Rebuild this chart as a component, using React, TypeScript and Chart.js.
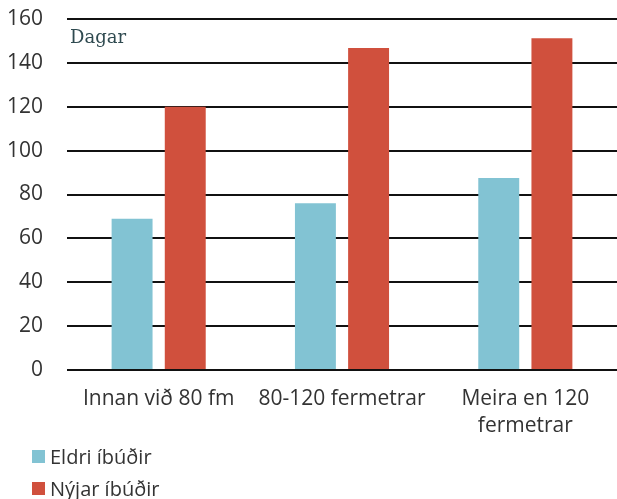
import React, { useEffect, useRef } from "react";
import { Chart, registerables } from "chart.js";

Chart.register(...registerables);

const categories: (string | string[])[] = ["Innan við 80 fm", "80-120 fermetrar", ["Meira en 120", "fermetrar"]];
const seriesNames = ["Eldri íbúðir", "Nýjar íbúðir"];
const eldri = [69, 76, 87.5];
const nyjar = [120, 146.8, 151.2];
const colors = ["#82c3d3", "#d0503d"];
const yTicks = [0, 20, 40, 60, 80, 100, 120, 140, 160];
const unitLabel = "Dagar";

const FONT = "'Open Sans', 'Noto Sans', sans-serif";

export default function App() {
  const ref = useRef<HTMLCanvasElement | null>(null);
  useEffect(() => {
    if (!ref.current) return;
    const unitPlugin = {
      id: "unitLabel",
      afterDraw(chart: any) {
        const { ctx, chartArea } = chart;
        ctx.save();
        ctx.font = "18px 'DejaVu Serif', 'Liberation Serif', serif";
        ctx.fillStyle = "#2f4a50";
        ctx.textAlign = "left";
        ctx.textBaseline = "middle";
        ctx.fillText(unitLabel, chartArea.left + 3, chartArea.top + 19);
        ctx.restore();
      },
    };
    const chart = new Chart(ref.current, {
      type: "bar",
      data: {
        labels: categories,
        datasets: [
          { label: seriesNames[0], data: eldri, backgroundColor: colors[0], barPercentage: 0.77, categoryPercentage: 0.58 },
          { label: seriesNames[1], data: nyjar, backgroundColor: colors[1], barPercentage: 0.77, categoryPercentage: 0.58 },
        ],
      },
      options: {
        animation: false,
        responsive: false,
        maintainAspectRatio: false,
        layout: { padding: { top: 19, right: 0, left: 0, bottom: 0 } },
        plugins: { legend: { display: false }, tooltip: { enabled: false } },
        scales: {
          x: {
            grid: { display: false, drawTicks: false },
            border: { display: false },
            ticks: { color: "#333", font: { family: FONT, size: 21, lineHeight: 1.3 }, padding: 15, maxRotation: 0 },
            afterFit(axis: any) {
              axis.height = 129;
            },
          },
          y: {
            min: 0,
            max: 160,
            afterBuildTicks(axis: any) {
              axis.ticks = yTicks.map((v) => ({ value: v }));
            },
            afterFit(axis: any) {
              axis.width = 67;
            },
            grid: { color: "#111", lineWidth: 2, drawTicks: true, tickLength: 24, tickColor: "rgba(0,0,0,0)" },
            border: { display: false },
            ticks: { color: "#333", font: { family: FONT, size: 21 }, padding: 0 },
          },
        },
      },
      plugins: [unitPlugin],
    });
    return () => chart.destroy();
  }, []);

  return (
    <div style={{ position: "absolute", left: 0, top: 0, width: 617, height: 499, background: "#fff" }}>
      <canvas ref={ref} width={617} height={499} style={{ position: "absolute", left: 0, top: 0 }} />
      {seriesNames.map((n, i) => (
        <div
          key={n}
          style={{
            position: "absolute",
            left: 32,
            top: 443 + i * 32,
            height: 26,
            display: "flex",
            alignItems: "center",
            fontFamily: FONT,
            fontSize: 20,
            color: "#333",
          }}
        >
          <span style={{ display: "inline-block", width: 13, height: 13, background: colors[i], marginRight: 5 }} />
          {n}
        </div>
      ))}
    </div>
  );
}
